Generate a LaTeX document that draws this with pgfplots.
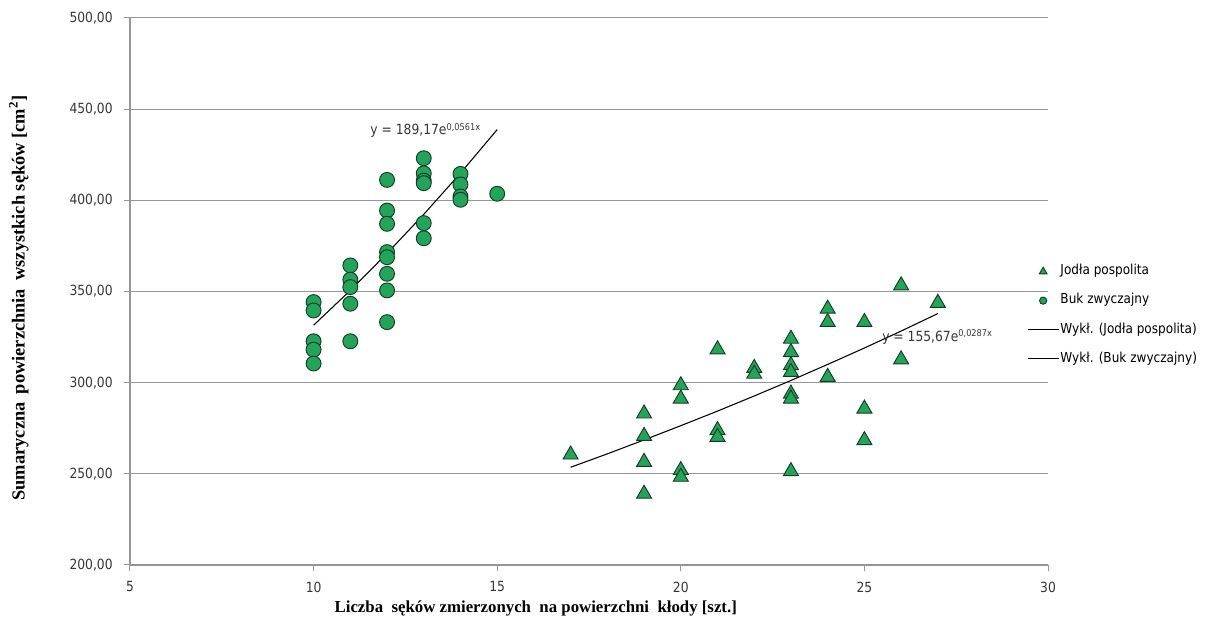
\documentclass[border=0pt]{standalone}
\usepackage{fontspec}
\setmainfont{Liberation Serif}
\newfontfamily\tahoma[FakeStretch=0.88]{DejaVu Sans}
\usepackage{pgfplots}
\pgfplotsset{compat=1.18}
\definecolor{mk}{RGB}{34,164,90}
\definecolor{mkd}{RGB}{20,60,35}
\definecolor{gridc}{RGB}{150,150,150}
\definecolor{tickc}{RGB}{55,55,55}
\newcommand\tickfont{\tahoma\fontsize{10.5}{12}\selectfont}
\newcommand\legfont{\tahoma\fontsize{10.3}{11}\selectfont}

\pgfplotsset{
  trileg/.style={legend image code/.code={\draw[##1, mark size=3.3pt] plot coordinates {(11.6pt,0pt)};}},
  circleg/.style={legend image code/.code={\draw[##1, mark size=2.7pt] plot coordinates {(11.6pt,0pt)};}},
  lineleg/.style={legend image code/.code={\draw[##1] (0pt,0pt) -- (23.2pt,0pt);}},
}

\pgfplotstableread{
x y
10 344.2
10 339.6
10 322.7
10 318.1
10 310.5
11 364.3
11 356.5
11 352.4
11 343.3
11 322.7
12 411.2
12 394.4
12 387.1
12 371.6
12 368.8
12 359.7
12 350.6
12 333.2
13 423.1
13 414.8
13 410.8
13 409.4
13 387.5
13 379.2
14 414.5
14 408.7
14 402.1
14 400.3
15 403.6
}\buk

\pgfplotstableread{
x y
17 260.5
19 283.0
19 270.7
19 256.5
19 239.0
20 298.5
20 291.2
20 252.0
20 248.3
21 318.2
21 273.9
21 270.2
22 308.0
22 304.8
23 324.0
23 316.7
23 309.5
23 305.8
23 293.9
23 291.2
23 251.4
24 340.5
24 333.2
24 303.1
25 333.2
25 285.7
25 268.4
26 353.3
26 312.7
27 343.7
}\jodla

\begin{document}
\begin{tikzpicture}
\useasboundingbox[fill=white] (0,0) rectangle (911.25pt,472.5pt);
\begin{axis}[
  at={(97.5pt,48.75pt)}, anchor=south west,
  scale only axis, width=688.5pt, height=410.25pt,
  xmin=5, xmax=30, ymin=200, ymax=500,
  axis lines=left,
  axis line style={-, gridc, line width=0.9pt},
  xtick={5,10,15,20,25,30},
  xticklabels={5,10,15,20,25,30},
  ytick={200,250,300,350,400,450,500},
  yticklabels={{200,00},{250,00},{300,00},{350,00},{400,00},{450,00},{500,00}},
  tick align=outside,
  major tick length=4.5pt,
  tick style={gridc, line width=0.75pt},
  ticklabel style={font=\tickfont, text=tickc},
  yticklabel style={xshift=-5pt},
  xticklabel style={yshift=-4.5pt},
  ymajorgrids, grid style={gridc, line width=0.75pt},
  xlabel={Liczba\ \ sęków zmierzonych\ \ na powierzchni\ \ kłody [szt.]},
  ylabel={Sumaryczna\hspace*{0.45em}powierzchnia\hspace*{0.45em}wszystkich sęków [cm\textsuperscript{2}]},
  xlabel style={font=\fontsize{12.6}{14}\selectfont\bfseries, at={(axis description cs:0.442,-0.079)}, anchor=center},
  ylabel style={font=\fontsize{13.8}{15}\selectfont\bfseries, at={(axis description cs:-0.121,0.488)}, anchor=center},
  legend style={at={(axis description cs:0.977,0.551)}, anchor=north west,
    draw=none, fill=none, inner sep=0pt, font=\legfont,
    row sep=10.2pt, cells={anchor=west},
    nodes={inner sep=1pt, text height=7.3pt, text depth=2.3pt}},
  legend cell align=left,
  clip=false,
]
\addplot[only marks, mark=triangle*, mark size=6.5pt,
  mark options={fill=mk, draw=mkd, line width=0.7pt}, trileg]
  table[x=x,y=y] {\jodla};
\addlegendentry{Jodła pospolita}
\addplot[only marks, mark=*, mark size=5.6pt,
  mark options={fill=mk, draw=mkd, line width=0.7pt}, circleg]
  table[x=x,y=y] {\buk};
\addlegendentry{Buk zwyczajny}
\addplot[black, line width=0.8pt, no marks, lineleg]
  coordinates {(17,253.6) (18,260.95) (19,268.6) (20,276.4) (21,284.4) (22,292.7) (23,301.2) (24,310.0) (25,319.0) (26,328.3) (27,337.9)};
\addlegendentry{Wykł. (Jodła pospolita)}
\addplot[black, line width=0.8pt, no marks, lineleg]
  coordinates {(10,331.5) (11,350.6) (12,370.9) (13,392.3) (14,414.9) (15,438.8)};
\addlegendentry{Wykł. (Buk zwyczajny)}
\node[anchor=west, inner sep=0pt, font=\tahoma\fontsize{10.5}{11}\selectfont, text=tickc]
  at (axis cs:11.54,438.2) {y = 189,17e\raisebox{0.6ex}{\fontsize{7}{8}\selectfont 0,0561x}};
\node[anchor=west, inner sep=0pt, font=\tahoma\fontsize{10.5}{11}\selectfont, text=tickc]
  at (axis cs:25.48,325.0) {y = 155,67e\raisebox{0.6ex}{\fontsize{7}{8}\selectfont 0,0287x}};
\end{axis}
\end{tikzpicture}
\end{document}
